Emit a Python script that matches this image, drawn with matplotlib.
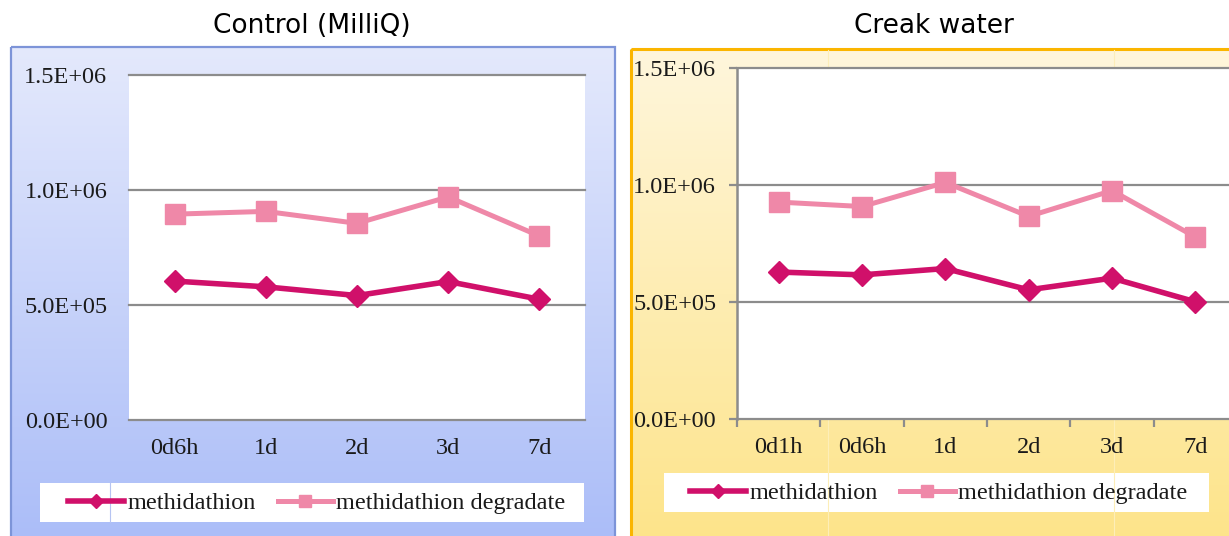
import numpy as np
import matplotlib.pyplot as plt
from matplotlib.colors import LinearSegmentedColormap
from matplotlib.patches import Rectangle
from matplotlib.lines import Line2D
from matplotlib.ticker import FuncFormatter, FixedLocator

# data
ctrl_labels = ['0d6h', '1d', '2d', '3d', '7d']
ctrl_methi = [6.04e5, 5.79e5, 5.41e5, 6.02e5, 5.25e5]
ctrl_degr = [8.95e5, 9.07e5, 8.55e5, 9.70e5, 8.00e5]

creek_labels = ['0d1h', '0d6h', '1d', '2d', '3d', '7d']
creek_methi = [6.28e5, 6.16e5, 6.43e5, 5.52e5, 6.02e5, 5.01e5]
creek_degr = [9.27e5, 9.08e5, 1.011e6, 8.66e5, 9.76e5, 7.78e5]

yticks = [0, 5e5, 1e6, 1.5e6]

C_METHI = '#d0106a'
C_DEGR = '#ef88a8'
GRID = '#8c8c8c'
TXT_FONT = 'Liberation Serif'
FS = 17.5

W, H = 1229, 536
fig = plt.figure(figsize=(W / 100, H / 100), dpi=100)
fig.patch.set_facecolor('white')

# background layer in pixel coordinates
bg = fig.add_axes([0, 0, 1, 1], zorder=0)
bg.set_xlim(0, W)
bg.set_ylim(H, 0)
bg.axis('off')


def gradient(ax, x0, x1, y0, y1, top, bottom):
    cmap = LinearSegmentedColormap.from_list('g', [top, bottom])
    grad = np.linspace(0, 1, 256).reshape(-1, 1)
    ax.imshow(grad, cmap=cmap, aspect='auto', extent=(x0, x1, y1, y0),
              interpolation='bilinear', zorder=1)


gradient(bg, 11, 615, 47, 540, '#e4e9fc', '#abbdf8')
bg.add_patch(Rectangle((11, 47), 604, 500, fill=False, ec='#7d94d8', lw=1.6, zorder=2))
gradient(bg, 631, 1235, 49, 540, '#fff6dc', '#fde48a')
bg.add_patch(Rectangle((631, 49), 610, 500, fill=False, ec='#fbb500', lw=2.2, zorder=2))

# legend boxes
bg.add_patch(Rectangle((40, 483), 544, 39, fc='white', ec='none', zorder=3))
bg.add_patch(Rectangle((664, 473), 545, 39, fc='white', ec='none', zorder=3))
# faint artefact lines from the original screenshot
bg.plot([110, 110], [483, 522], color='#b6c4f2', lw=0.8, zorder=4)
for xv in (828, 1114):
    bg.plot([xv, xv], [50, 536], color='#fdeeb8', lw=0.8, zorder=4)

fig.text(312 / W, 1 - 26 / H, 'Control (MilliQ)', ha='center', va='center',
         fontsize=19, family='DejaVu Sans')
fig.text(934 / W, 1 - 26 / H, 'Creak water', ha='center', va='center',
         fontsize=19, family='DejaVu Sans')

fmt = FuncFormatter(lambda v, p: '%.1E' % v)


def draw(ax, labels, methi, degr, ticks):
    x = np.arange(len(labels))
    ax.set_facecolor('white')
    ax.plot(x, degr, color=C_DEGR, lw=3.6, marker='s', ms=15, zorder=3,
            label='methidathion degradate')
    ax.plot(x, methi, color=C_METHI, lw=4, marker='D', ms=11, zorder=4,
            label='methidathion')
    ax.set_xlim(-0.5, len(labels) - 0.5)
    ax.set_ylim(0, 1.5e6)
    ax.set_yticks(yticks)
    ax.yaxis.set_major_formatter(fmt)
    for v in yticks:
        ax.axhline(v, color=GRID, lw=1.6, zorder=1, clip_on=False)
    for s in ax.spines.values():
        s.set_visible(False)
    ax.xaxis.set_minor_locator(FixedLocator(x))
    ax.set_xticks(x, minor=True)
    ax.set_xticklabels(labels, minor=True)
    ax.tick_params(axis='x', which='minor', length=0, pad=13, labelsize=FS)
    if ticks:
        ax.set_xticks(np.arange(len(labels) + 1) - 0.5)
        ax.set_xticklabels([])
        ax.tick_params(axis='x', which='major', length=6, width=1.6, color=GRID)
        ax.tick_params(axis='y', length=6, width=1.6, color=GRID, pad=9, labelsize=FS)
        ax.spines['left'].set_visible(True)
        ax.spines['left'].set_color(GRID)
        ax.spines['left'].set_linewidth(1.8)
    else:
        ax.set_xticks([])
        ax.tick_params(axis='y', length=0, pad=15.5, labelsize=FS)
    for t in ax.get_xticklabels(minor=True) + ax.get_yticklabels():
        t.set_family(TXT_FONT)
        t.set_color('#1a1a1a')


ax1 = fig.add_axes([129 / W, 1 - 420 / H, 456 / W, 345 / H], zorder=5)
draw(ax1, ctrl_labels, ctrl_methi, ctrl_degr, False)

ax2 = fig.add_axes([737 / W, 1 - 419 / H, 500 / W, 351 / H], zorder=5)
draw(ax2, creek_labels, creek_methi, creek_degr, True)

handles = [Line2D([], [], color=C_METHI, lw=4, marker='D', ms=11),
           Line2D([], [], color=C_DEGR, lw=3.6, marker='s', ms=15)]
names = ['methidathion', 'methidathion degradate']
for cx, cy in ((317 / W, 1 - 503 / H), (939 / W, 1 - 493 / H)):
    leg = fig.legend(handles, names, loc='center', bbox_to_anchor=(cx, cy), ncol=2,
                     frameon=False, handlelength=2.3, handletextpad=0.12,
                     columnspacing=0.9, markerscale=0.62,
                     prop={'family': TXT_FONT, 'size': FS})
    for t in leg.get_texts():
        t.set_color('#1a1a1a')

fig.savefig('out.png', dpi=100)
